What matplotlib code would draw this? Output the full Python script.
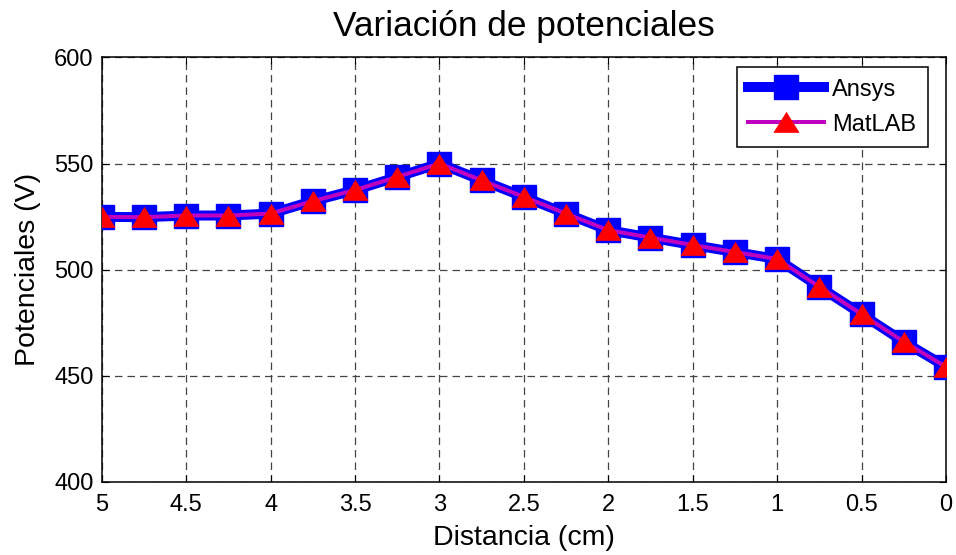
import matplotlib
matplotlib.use("Agg")
import matplotlib.pyplot as plt

plt.rcParams['font.family'] = ['Liberation Sans', 'DejaVu Sans']

distancia = [5, 4.75, 4.5, 4.25, 4, 3.75, 3.5, 3.25, 3, 2.75, 2.5, 2.25, 2, 1.75, 1.5, 1.25, 1, 0.75, 0.5, 0.25, 0]
ansys = [524.9, 524.7, 525.5, 525.5, 526.4, 532.3, 537.5, 543.7, 550.0, 542.1, 534.3, 526.4, 518.6, 515.1, 511.6, 508.3, 505.0, 491.9, 479.0, 466.0, 454.2]
matlab = [524.9, 524.7, 525.5, 525.5, 526.4, 532.3, 537.5, 543.7, 550.0, 542.1, 534.3, 526.4, 518.6, 515.1, 511.6, 508.3, 505.0, 491.9, 479.0, 466.0, 454.2]
xticks = [5, 4.5, 4, 3.5, 3, 2.5, 2, 1.5, 1, 0.5, 0]
xticklabels = ['5', '4.5', '4', '3.5', '3', '2.5', '2', '1.5', '1', '0.5', '0']
yticks = [400, 450, 500, 550, 600]

fig = plt.figure(figsize=(9.56, 5.55), dpi=100)
ax = fig.add_axes([0.1064, 0.132, 0.8831, 0.7644])

tri = [(0, 0.8), (-1, -0.8), (1, -0.8), (0, 0.8)]
ax.plot(distancia, ansys, color='#0000FF', lw=7.2, marker='s', ms=17, mfc='#0000FF', mec='#0000FF', label='Ansys', zorder=3)
ax.plot(distancia, matlab, color='#BF00BF', lw=2.9, marker=tri, ms=18, mfc='#FF0000', mec='#FF0000', mew=0.5, label='MatLAB', zorder=4)

ax.set_xlim(5, 0)
ax.set_ylim(400, 600)
ax.set_xticks(xticks)
ax.set_xticklabels(xticklabels)
ax.set_yticks(yticks)
ax.grid(True, linestyle=(0, (6, 4)), color='#444444', lw=0.9)
ax.tick_params(direction='in', top=True, right=True, labelsize=17, length=5)
ax.tick_params(axis='x', pad=8.5)
ax.tick_params(axis='y', pad=6)
for s in ax.spines.values():
    s.set_linewidth(1.1)

ax.set_title('Variación de potenciales', fontsize=25.4, pad=15.5)
ax.set_xlabel('Distancia (cm)', fontsize=20.5, labelpad=6.5)
ax.set_ylabel('Potenciales (V)', fontsize=20.5, labelpad=9.5)

leg = ax.legend(loc='upper right', fontsize=17, handlelength=3.2, handletextpad=0.35,
                fancybox=False, edgecolor='black', framealpha=1, borderpad=0.5,
                labelspacing=0.55, borderaxespad=0, bbox_to_anchor=(0.9787, 0.978))
leg.get_frame().set_linewidth(1.1)

fig.savefig('out.png', dpi=100)
